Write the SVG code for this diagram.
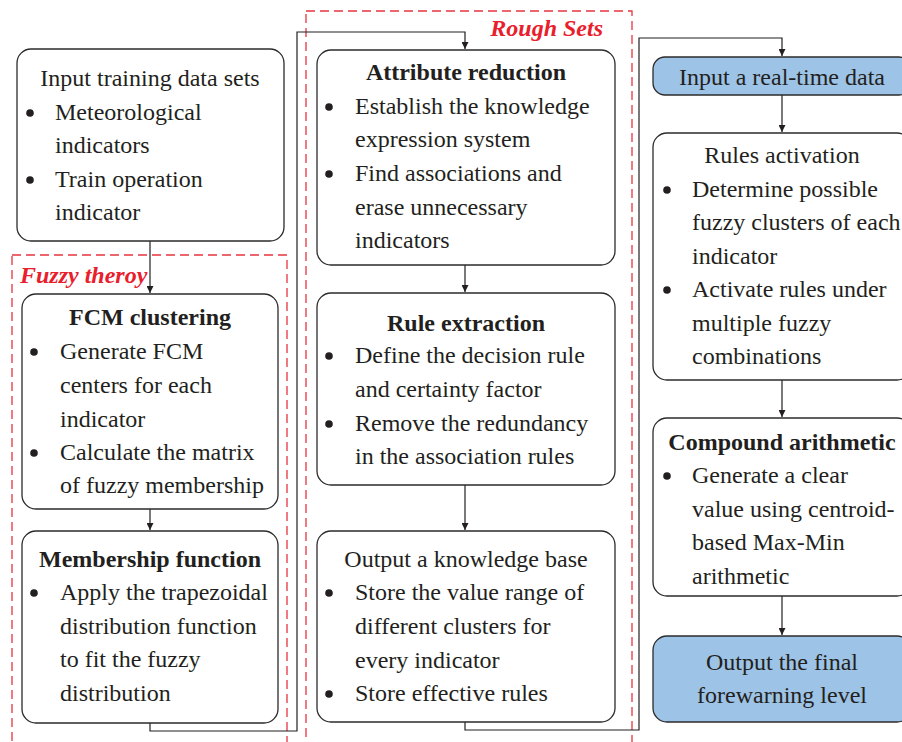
<svg xmlns="http://www.w3.org/2000/svg" width="902" height="742" viewBox="0 0 902 742">
<defs>
<marker id="ah" viewBox="0 0 10 10" refX="10" refY="5" markerWidth="7" markerHeight="7" markerUnits="userSpaceOnUse" orient="auto">
<path d="M0,0 L10,5 L0,10 Z" fill="#231f20"/>
</marker>
<style>
.box{fill:#fff;stroke:#2b2b2b;stroke-width:1.3}
.blue{fill:#9dc3e6;stroke:#2b2b2b;stroke-width:1.3}
.grp{fill:none;stroke:#e8343f;stroke-width:1.3;stroke-dasharray:9 5}
.conn{fill:none;stroke:#231f20;stroke-width:1.2}
text{font-family:"Liberation Serif","Times New Roman",serif;font-size:24px;fill:#231f20}
.t{font-weight:bold}
.c{text-anchor:middle}
.lbl{font-weight:bold;font-style:italic;fill:#e8202c;font-size:24px}
</style>
</defs>

<g id="groups">
<rect class="grp" x="12" y="255" width="275" height="500"/>
<text class="lbl" x="20" y="283">Fuzzy theroy</text>
<rect class="grp" x="306" y="11" width="326" height="744"/>
<text class="lbl" x="603" y="36" text-anchor="end">Rough Sets</text>
</g>

<g id="connectors">
<path class="conn" d="M150,241 V293" marker-end="url(#ah)"/>
<path class="conn" d="M150,509 V530" marker-end="url(#ah)"/>
<path class="conn" d="M150,723 V731 H297 V32 H465 V49" marker-end="url(#ah)"/>
<path class="conn" d="M465,265 V292" marker-end="url(#ah)"/>
<path class="conn" d="M465,485 V530" marker-end="url(#ah)"/>
<path class="conn" d="M465,722 V730 H639 V38 H782 V56" marker-end="url(#ah)"/>
<path class="conn" d="M782,95 V132" marker-end="url(#ah)"/>
<path class="conn" d="M782,380 V417" marker-end="url(#ah)"/>
<path class="conn" d="M782,596 V635" marker-end="url(#ah)"/>
</g>

<g id="input-training">
<rect class="box" x="17" y="49" width="267" height="192" rx="14"/>
<text class="c" x="150" y="86">Input training data sets</text>
<circle cx="30" cy="113" r="3.8" fill="#231f20"/>
<text x="55" y="120">Meteorological</text>
<text x="55" y="153">indicators</text>
<circle cx="30" cy="180" r="3.8" fill="#231f20"/>
<text x="55" y="187">Train operation</text>
<text x="55" y="220">indicator</text>
</g>

<g id="fcm">
<rect class="box" x="22" y="294" width="256" height="215" rx="14"/>
<text class="t c" x="150" y="325">FCM clustering</text>
<circle cx="34" cy="352" r="3.8" fill="#231f20"/>
<text x="60" y="359">Generate FCM</text>
<text x="60" y="393">centers for each</text>
<text x="60" y="427">indicator</text>
<circle cx="34" cy="453" r="3.8" fill="#231f20"/>
<text x="60" y="460">Calculate the matrix</text>
<text x="60" y="493">of fuzzy membership</text>
</g>

<g id="membership">
<rect class="box" x="22" y="531" width="256" height="192" rx="14"/>
<text class="t c" x="150" y="567">Membership function</text>
<circle cx="34" cy="593" r="3.8" fill="#231f20"/>
<text x="60" y="600">Apply the trapezoidal</text>
<text x="60" y="634">distribution function</text>
<text x="60" y="667">to fit the fuzzy</text>
<text x="60" y="701">distribution</text>
</g>

<g id="attribute">
<rect class="box" x="317" y="50" width="298" height="215" rx="14"/>
<text class="t c" x="466" y="80">Attribute reduction</text>
<circle cx="329" cy="107" r="3.8" fill="#231f20"/>
<text x="355" y="114">Establish the knowledge</text>
<text x="355" y="147">expression system</text>
<circle cx="329" cy="174" r="3.8" fill="#231f20"/>
<text x="355" y="181">Find associations and</text>
<text x="355" y="215">erase unnecessary</text>
<text x="355" y="248">indicators</text>
</g>

<g id="rule-extraction">
<rect class="box" x="317" y="293" width="298" height="192" rx="14"/>
<text class="t c" x="466" y="331">Rule extraction</text>
<circle cx="329" cy="356" r="3.8" fill="#231f20"/>
<text x="355" y="363">Define the decision rule</text>
<text x="355" y="397">and certainty factor</text>
<circle cx="329" cy="424" r="3.8" fill="#231f20"/>
<text x="355" y="431">Remove the redundancy</text>
<text x="355" y="464">in the association rules</text>
</g>

<g id="knowledge-base">
<rect class="box" x="317" y="531" width="298" height="191" rx="14"/>
<text class="c" x="466" y="567">Output a knowledge base</text>
<circle cx="329" cy="593" r="3.8" fill="#231f20"/>
<text x="355" y="600">Store the value range of</text>
<text x="355" y="634">different clusters for</text>
<text x="355" y="668">every indicator</text>
<circle cx="329" cy="694" r="3.8" fill="#231f20"/>
<text x="355" y="701">Store effective rules</text>
</g>

<g id="input-realtime">
<rect class="blue" x="653" y="57" width="258" height="38" rx="12"/>
<text class="c" x="782" y="85">Input a real-time data</text>
</g>

<g id="rules-activation">
<rect class="box" x="653" y="133" width="258" height="247" rx="14"/>
<text class="c" x="782" y="163">Rules activation</text>
<circle cx="667" cy="190" r="3.8" fill="#231f20"/>
<text x="692" y="197">Determine possible</text>
<text x="692" y="230">fuzzy clusters of each</text>
<text x="692" y="264">indicator</text>
<circle cx="667" cy="290" r="3.8" fill="#231f20"/>
<text x="692" y="297">Activate rules under</text>
<text x="692" y="331">multiple fuzzy</text>
<text x="692" y="364">combinations</text>
</g>

<g id="compound">
<rect class="box" x="653" y="418" width="258" height="178" rx="14"/>
<text class="t c" x="782" y="450">Compound arithmetic</text>
<circle cx="667" cy="476" r="3.8" fill="#231f20"/>
<text x="692" y="483">Generate a clear</text>
<text x="692" y="517">value using centroid-</text>
<text x="692" y="550">based Max-Min</text>
<text x="692" y="584">arithmetic</text>
</g>

<g id="output-final">
<rect class="blue" x="653" y="636" width="258" height="86" rx="14"/>
<text class="c" x="782" y="670">Output the final</text>
<text class="c" x="782" y="703">forewarning level</text>
</g>
</svg>
